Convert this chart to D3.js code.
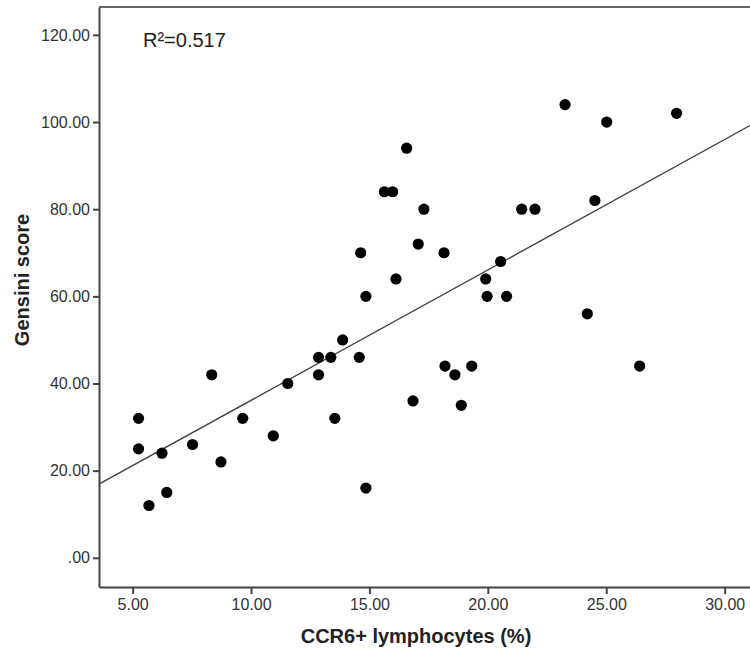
<!DOCTYPE html>
<html>
<head>
<meta charset="utf-8">
<script src="https://cdn.jsdelivr.net/npm/d3@7"></script>
<style>
  body { margin: 0; background: #fff; }
  svg { display: block; }
</style>
</head>
<body>
<script>
var wW = 750;
var wH = 657;

// CCR6+ lymphocytes (%) per patient
var ccr6 = [
  5.25, 5.25, 5.69, 6.24, 6.44, 7.53, 8.34, 8.73, 9.65, 10.94,
  11.55, 12.85, 12.85, 13.37, 13.54, 13.87, 14.57, 14.63, 14.85, 14.85,
  15.63, 15.98, 16.12, 16.57, 16.84, 17.06, 17.30, 18.15, 18.19, 18.61,
  18.88, 19.32, 19.91, 19.97, 20.54, 20.79, 21.43, 21.99, 23.26, 24.20,
  24.52, 25.02, 26.41, 27.97
];
// Gensini score, same order
var gensini = [
  32, 25, 12, 24, 15, 26, 42, 22, 32, 28,
  40, 46, 42, 46, 32, 50, 46, 70, 60, 16,
  84, 84, 64, 94, 36, 72, 80, 70, 44, 42,
  35, 44, 64, 60, 68, 60, 80, 80, 104, 56,
  82, 100, 44, 102
];

var xTicks = [5, 10, 15, 20, 25, 30];
var yTicks = [0, 20, 40, 60, 80, 100, 120];
var xDomain = [3.58, 31.07];
var yDomain = [-6.7, 126.4];
var rSquared = "0.517";

var plot = { left: 99, right: 750, top: 7, bottom: 587 };

var svg = d3.select("body").append("svg")
  .attr("width", wW)
  .attr("height", wH);

var x = d3.scaleLinear().domain(xDomain).range([plot.left, plot.right]);
var y = d3.scaleLinear().domain(yDomain).range([plot.bottom, plot.top]);

var fmt = function(d) { return d === 0 ? ".00" : d.toFixed(2); };

// least squares fit line
var mx = d3.mean(ccr6), my = d3.mean(gensini);
var sxy = 0, sxx = 0;
ccr6.forEach(function(v, i) {
  sxy += (v - mx) * (gensini[i] - my);
  sxx += (v - mx) * (v - mx);
});
var slope = sxy / sxx;
var intercept = my - slope * mx;

// frame top line
svg.append("line")
  .attr("x1", plot.left).attr("x2", plot.right)
  .attr("y1", plot.top).attr("y2", plot.top)
  .attr("stroke", "#666").attr("stroke-width", 2);

var yAxis = svg.append("g")
  .attr("transform", "translate(" + plot.left + ",0)")
  .call(d3.axisLeft(y).tickValues(yTicks).tickFormat(fmt).tickSize(6).tickSizeOuter(0).tickPadding(3));

var xAxis = svg.append("g")
  .attr("transform", "translate(0," + plot.bottom + ")")
  .call(d3.axisBottom(x).tickValues(xTicks).tickFormat(fmt).tickSize(7).tickSizeOuter(0).tickPadding(5));

[yAxis, xAxis].forEach(function(ax) {
  ax.select(".domain").attr("stroke", "#444").attr("stroke-width", 2);
  ax.selectAll(".tick line").attr("stroke", "#444").attr("stroke-width", 2);
  ax.selectAll(".tick text")
    .attr("fill", "#333")
    .attr("font-family", "Liberation Sans, Arial, sans-serif")
    .attr("font-size", 16);
});

// fit line
svg.append("clipPath").attr("id", "plotclip")
  .append("rect")
  .attr("x", plot.left).attr("y", plot.top)
  .attr("width", plot.right - plot.left).attr("height", plot.bottom - plot.top);

svg.append("line")
  .attr("clip-path", "url(#plotclip)")
  .attr("x1", x(xDomain[0])).attr("y1", y(intercept + slope * xDomain[0]))
  .attr("x2", x(xDomain[1])).attr("y2", y(intercept + slope * xDomain[1]))
  .attr("stroke", "#444").attr("stroke-width", 1.4);

svg.append("g").selectAll("circle")
  .data(ccr6)
  .enter().append("circle")
  .attr("cx", function(d) { return x(d); })
  .attr("cy", function(d, i) { return y(gensini[i]); })
  .attr("r", 5.6)
  .attr("fill", "#000");

svg.append("text")
  .attr("x", 143).attr("y", 47)
  .attr("font-family", "Liberation Sans, Arial, sans-serif")
  .attr("font-size", 20)
  .attr("fill", "#222")
  .text("R\u00b2=" + rSquared);

svg.append("text")
  .attr("x", 416).attr("y", 643)
  .attr("text-anchor", "middle")
  .attr("font-family", "Liberation Sans, Arial, sans-serif")
  .attr("font-weight", "bold")
  .attr("font-size", 20)
  .attr("fill", "#222")
  .text("CCR6+ lymphocytes (%)");

svg.append("text")
  .attr("transform", "translate(29,280) rotate(-90)")
  .attr("text-anchor", "middle")
  .attr("font-family", "Liberation Sans, Arial, sans-serif")
  .attr("font-weight", "bold")
  .attr("font-size", 20)
  .attr("fill", "#222")
  .text("Gensini score");
</script>
</body>
</html>
